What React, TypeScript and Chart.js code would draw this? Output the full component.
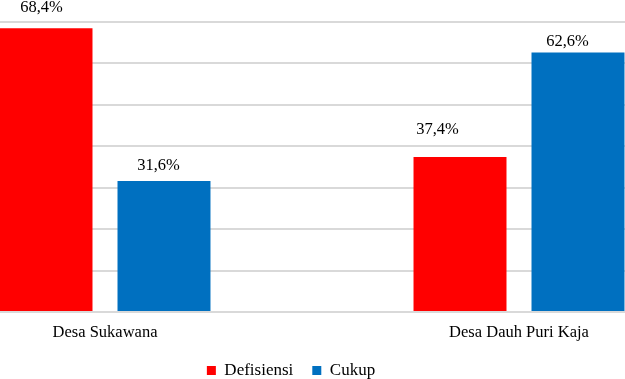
import React, { useEffect, useRef } from "react";
import { Chart, registerables } from "chart.js";

Chart.register(...registerables);

const categories = ["Desa Sukawana", "Desa Dauh Puri Kaja"];
const seriesNames = ["Defisiensi", "Cukup"];
const defisiensi = [68.4, 37.4];
const cukup = [31.6, 62.6];
const yTicks = [0, 10, 20, 30, 40, 50, 60, 70];

const COLORS = ["#FF0000", "#0070C0"];
const FONT = "'Liberation Serif', 'Times New Roman', serif";
// label placement tweaks (dx, dy from bar top-centre), per dataset / category
const LABEL_OFFSETS = [
  [
    { dx: -4.5, dy: -16 },
    { dx: -22.5, dy: -22.5 },
  ],
  [
    { dx: -5.5, dy: -10.5 },
    { dx: -10.5, dy: -6 },
  ],
];

const fmt = (v: number) => v.toFixed(1).replace(".", ",") + "%";

const labelPlugin = {
  id: "barLabels",
  afterDatasetsDraw(chart: any) {
    const ctx = chart.ctx;
    ctx.save();
    ctx.font = `16.5px ${FONT}`;
    ctx.fillStyle = "#000";
    ctx.textAlign = "center";
    ctx.textBaseline = "alphabetic";
    chart.data.datasets.forEach((ds: any, di: number) => {
      const meta = chart.getDatasetMeta(di);
      meta.data.forEach((bar: any, i: number) => {
        const off = LABEL_OFFSETS[di][i];
        ctx.fillText(fmt(ds.data[i]), bar.x + off.dx, bar.y + off.dy);
      });
    });
    ctx.restore();
  },
};

export default function App() {
  const ref = useRef<HTMLCanvasElement | null>(null);
  useEffect(() => {
    if (!ref.current) return;
    const chart = new Chart(ref.current, {
      type: "bar",
      data: {
        labels: categories,
        datasets: [
          {
            label: seriesNames[0],
            data: defisiensi,
            backgroundColor: COLORS[0],
            borderWidth: 0,
            categoryPercentage: 0.57,
            barPercentage: 0.788,
          },
          {
            label: seriesNames[1],
            data: cukup,
            backgroundColor: COLORS[1],
            borderWidth: 0,
            categoryPercentage: 0.57,
            barPercentage: 0.788,
          },
        ],
      },
      options: {
        animation: false,
        responsive: false,
        maintainAspectRatio: false,
        layout: { padding: { top: 21.7, bottom: 0, left: 0, right: 0 } },
        plugins: {
          tooltip: { enabled: false },
          legend: {
            position: "bottom",
            labels: {
              boxWidth: 9,
              boxHeight: 9,
              padding: 19,
              color: "#000",
              font: { family: FONT, size: 17 },
            },
          },
        },
        scales: {
          x: {
            grid: { display: false, drawTicks: false },
            border: { display: false },
            afterFit: (scale: any) => {
              scale.height = scale.height - 10;
            },
            ticks: {
              color: "#000",
              padding: 10.6,
              font: { family: FONT, size: 16.5 },
              maxRotation: 0,
            },
          },
          y: {
            min: yTicks[0],
            max: yTicks[yTicks.length - 1],
            afterBuildTicks: (scale: any) => {
              scale.ticks = yTicks.map((v) => ({ value: v }));
            },
            afterFit: (scale: any) => {
              scale.width = 42;
            },
            grid: { color: "#d9d9d9", lineWidth: 2, drawTicks: false },
            border: { display: false },
            ticks: { display: false },
          },
        },
      },
      plugins: [labelPlugin],
    });
    return () => chart.destroy();
  }, []);

  return (
    <div
      style={{
        position: "fixed",
        left: 0,
        top: 0,
        width: 625,
        height: 379,
        overflow: "hidden",
        background: "#fff",
      }}
    >
      <canvas
        ref={ref}
        width={870}
        height={389}
        style={{ position: "absolute", left: -144, top: 0, width: 870, height: 389 }}
      />
    </div>
  );
}
